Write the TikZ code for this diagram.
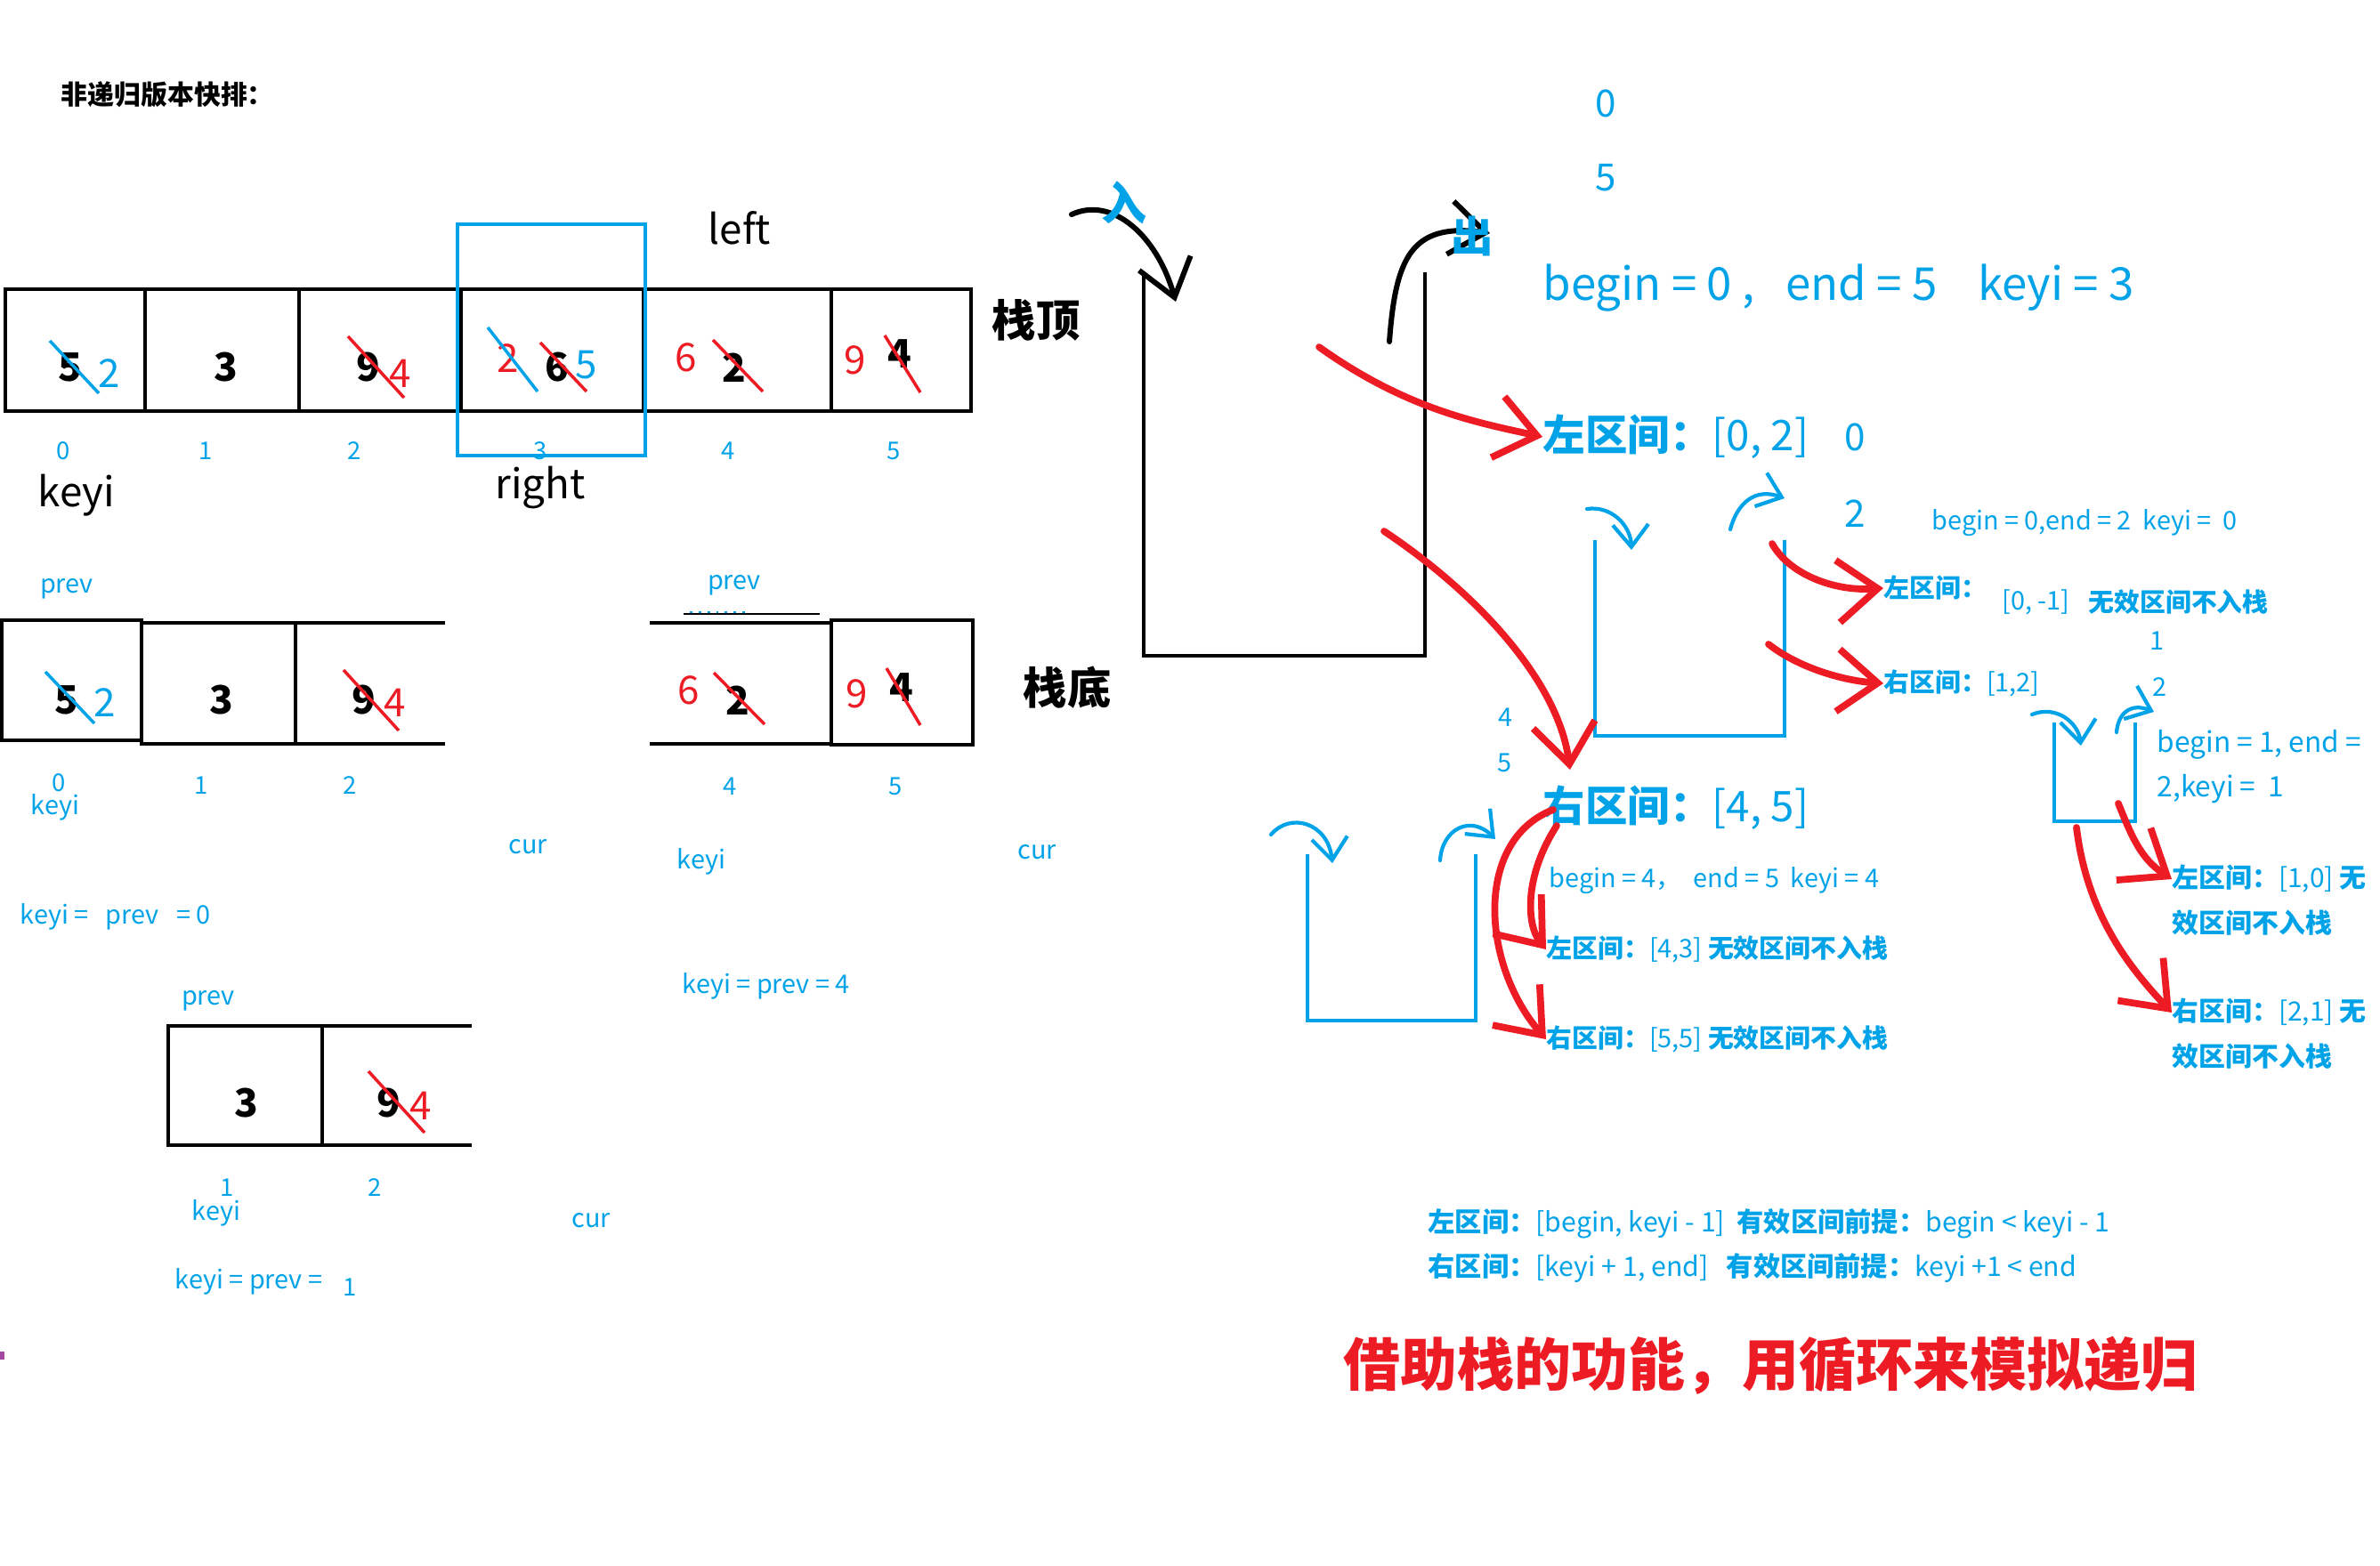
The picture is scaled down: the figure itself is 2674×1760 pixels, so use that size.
\documentclass[tikz,border=0pt]{standalone}
\usepackage{fontspec}
\setmainfont{Noto Sans CJK SC}
\usetikzlibrary{arrows.meta}

\definecolor{pblue}{RGB}{0,162,232}
\definecolor{pred}{RGB}{237,28,36}
\definecolor{ppurple}{RGB}{163,73,164}
\newcommand\fsz[1]{\fontsize{#1}{#1}\selectfont}

\begin{document}
\begin{tikzpicture}[
    x=0.01cm,
    y=-0.01cm,
    every node/.style={inner sep=0pt},
    cell/.style={font=\bfseries\fsz{12.5}},
    cellnew/.style={font=\fsz{12.5}},
    idx/.style={text=pblue, font=\fsz{7.8}},
    note/.style={text=pblue, font=\fsz{8.2}, anchor=west},
    bignote/.style={text=pblue, font=\fsz{13.5}, anchor=west},
    strikeb/.style={pblue, line width=1pt},
    striker/.style={pred, line width=1pt},
    stackb/.style={pblue, line width=1.2pt},
    redarrow/.style={
        pred,
        line width=2.2pt,
        line cap=round,
        -{Straight Barb[length=4.5mm,width=7mm,line width=2.2pt]}
    },
    blkarrow/.style={
        line width=1.7pt,
        line cap=round,
        -{Straight Barb[length=4mm,width=6mm,line width=1.7pt]}
    },
    bluearrow/.style={
        pblue,
        line width=1.2pt,
        line cap=round,
        -{Straight Barb[length=2.5mm,width=4mm,line width=1.2pt]}
    }
]
\useasboundingbox (0,0) rectangle (2674,1760);

% Title
\node[anchor=west, font=\bfseries\fsz{8.5}] (title) at (68,106) {非递归版本快排：};

% First array
\draw[line width=1.4pt] (6,325) rectangle (1091,462);
\foreach \x in {163,336,518,723,934}
    \draw[line width=1.2pt] (\x,325) -- (\x,462);
\draw[pblue, line width=1.2pt] (514,252) rectangle (725,512);

\node[cell] (a0) at (79,413) {5};
\node[cellnew, text=pblue] (a0n) at (123,420) {2};
\draw[strikeb] (56,383) -- (111,442);
\node[cell] (a1) at (254,413) {3};
\node[cell] (a2) at (414,413) {9};
\node[cellnew, text=pred] (a2n) at (450,420) {4};
\draw[striker] (391,378) -- (454,447);
\node[cellnew, text=pred] (a3r) at (571,403) {2};
\node[cell] (a3) at (626,413) {6};
\node[cellnew, text=pblue] (a3n) at (659,410) {5};
\draw[strikeb] (548,368) -- (604,440);
\draw[striker] (607,385) -- (659,440);
\node[cellnew, text=pred] (a4n) at (771,402) {6};
\node[cell] (a4) at (825,413) {2};
\draw[striker] (801,382) -- (857,440);
\node[cellnew, text=pred] (a5n) at (961,405) {9};
\node[cell] (a5) at (1011,398) {4};
\draw[striker] (994,377) -- (1034,441);

% Indices
\foreach \i/\x in {0/71,1/231,2/398,3/607,4/818,5/1004}
    \node[idx] (ia\i) at (\x,507) {\i};

\node[font=\fsz{13}] (leftlbl) at (831,256) {left};
\node[font=\fsz{13}] (rightlbl) at (607,548) {right};
\node[font=\fsz{13}] (keyilbl) at (86,557) {keyi};

% Second row, left part
\draw[line width=1.4pt] (2,697) rectangle (159,832);
\draw[line width=1.4pt] (500,700) -- (159,700) -- (159,836) -- (500,836);
\draw[line width=1.2pt] (332,700) -- (332,836);
\node[cell] (b0) at (75,787) {5};
\node[cellnew, text=pblue] (b0n) at (118,790) {2};
\draw[strikeb] (51,755) -- (106,813);
\node[cell] (b1) at (249,787) {3};
\node[cell] (b2) at (409,787) {9};
\node[cellnew, text=pred] (b2n) at (444,790) {4};
\draw[striker] (386,753) -- (448,821);

\node[note, anchor=center] (bprev) at (75,662) {prev};
\node[idx] (ib0) at (66,880) {0};
\node[note, anchor=center] (bkeyi) at (62,907) {keyi};
\node[idx] (ib1) at (226,883) {1};
\node[idx] (ib2) at (393,883) {2};
\node[note, anchor=center] (bcur) at (593,952) {cur};
\node[note] (bres) at (22,1030) {keyi =\ \ \ prev\ \ \ = 0};

% Second row, right part
\draw[line width=1.4pt] (730,700) -- (934,700);
\draw[line width=1.4pt] (730,836) -- (934,836);
\draw[line width=1.4pt] (934,697) rectangle (1093,837);
\draw[line width=0.4pt] (768,690) -- (921,690);
\draw[pblue, line width=0.8pt, dotted] (775,688) -- (839,688);
\node[cellnew, text=pred] (c4n) at (774,776) {6};
\node[cell] (c4) at (829,787) {2};
\draw[striker] (802,756) -- (859,814);
\node[cellnew, text=pred] (c5n) at (963,780) {9};
\node[cell] (c5) at (1013,773) {4};
\draw[striker] (996,751) -- (1034,815);

\node[note, anchor=center] (cprev) at (825,658) {prev};
\node[idx] (ic4) at (820,884) {4};
\node[idx] (ic5) at (1006,884) {5};
\node[note, anchor=center] (ckeyi) at (788,968) {keyi};
\node[note, anchor=center] (ccur) at (1165,958) {cur};
\node[note] (cres) at (766,1108) {keyi = prev = 4};

% Third row
\draw[line width=1.4pt] (530,1153) -- (189,1153) -- (189,1287) -- (530,1287);
\draw[line width=1.2pt] (362,1153) -- (362,1287);
\node[cell] (d1) at (277,1240) {3};
\node[cell] (d2) at (437,1240) {9};
\node[cellnew, text=pred] (d2n) at (473,1243) {4};
\draw[striker] (414,1204) -- (477,1273);

\node[note, anchor=center] (dprev) at (234,1125) {prev};
\node[idx] (id1) at (255,1335) {1};
\node[note, anchor=center] (dkeyi) at (243,1363) {keyi};
\node[idx] (id2) at (421,1335) {2};
\node[note, anchor=center] (dcur) at (664,1372) {cur};
\node[note] (dres) at (196,1440) {keyi = prev =};
\node[idx] (dresv) at (393,1447) {1};

\fill[ppurple] (0,1519) rectangle (5,1528);

% Main stack
\draw[line width=1.2pt] (1285,306) -- (1285,737) -- (1601,737) -- (1601,306);
\node[font=\bfseries\fsz{14}] (top) at (1164,360) {栈顶};
\node[font=\bfseries\fsz{14}] (bottom) at (1199,773) {栈底};
\coordinate (pushs) at (1204,241);
\coordinate (pushe) at (1321,339);
\coordinate (pops) at (1561,384);
\coordinate (pope) at (1674,262);
\draw[blkarrow] (pushs) .. controls (1250,220) and (1300,265) .. (pushe);
\draw[blkarrow] (pops) .. controls (1568,290) and (1585,250) .. (pope);
\node[text=pblue, font=\bfseries\fsz{14.5}] (push) at (1263,228) {入};
\node[text=pblue, font=\bfseries\fsz{13.5}] (pop) at (1654,265) {出};

% Values on the right
\node[text=pblue, font=\fsz{12}] (v0) at (1804,116) {0};
\node[text=pblue, font=\fsz{12}] (v5) at (1804,200) {5};
\node[bignote, font=\fsz{14.5}] (first) at (1733,324)
    {begin = 0 ,\ \ \ end = 5\ \ \ \ keyi = 3};

% Left interval [0,2]
\node[bignote] (l02) at (1733,491) {\textbf{左区间：}[0, 2]};
\node[text=pblue, font=\fsz{12}] (l02a) at (2084,491) {0};
\node[text=pblue, font=\fsz{12}] (l02b) at (2084,577) {2};
\coordinate (r1s) at (1482,390);
\draw[redarrow] (r1s) .. controls (1580,460) and (1660,475) .. (l02.west);

\draw[stackb] (1792,607) -- (1792,827) -- (2005,827) -- (2005,607);
\coordinate (in2s) at (1783,572);
\coordinate (in2e) at (1833,618);
\coordinate (out2s) at (1944,595);
\coordinate (out2e) at (2005,560);
\draw[bluearrow] (in2s) .. controls (1810,568) and (1832,590) .. (in2e);
\draw[bluearrow] (out2s) .. controls (1952,565) and (1972,548) .. (out2e);
\node[note] (k02) at (2170,588) {begin = 0,end = 2\ \ keyi =\ \ 0};

\node[note, font=\bfseries\fsz{8.2}] (l0m1) at (2116,661) {左区间：};
\node[note] (l0m1v) at (2249,677) {[0, -1]};
\node[note, font=\bfseries\fsz{8.2}] (l0m1t) at (2346,677) {无效区间不入栈};
\node[note] (r12) at (2116,768) {\textbf{右区间：}[1,2]};
\node[idx, font=\fsz{8.2}] (r12a) at (2423,720) {1};
\node[idx, font=\fsz{8.2}] (r12b) at (2426,772) {2};
\coordinate (ras) at (1991,611);
\coordinate (rbs) at (1987,724);
\draw[redarrow] (ras) .. controls (2010,645) and (2060,665) .. (l0m1.west);
\draw[redarrow] (rbs) .. controls (2020,750) and (2070,765) .. (r12.west);

% Small stack for [1,2]
\draw[stackb] (2308,812) -- (2308,923) -- (2399,923) -- (2399,812);
\coordinate (in3s) at (2283,803);
\coordinate (in3e) at (2338,838);
\coordinate (out3s) at (2378,823);
\coordinate (out3e) at (2420,800);
\draw[bluearrow] (in3s) .. controls (2310,792) and (2335,812) .. (in3e);
\draw[bluearrow] (out3s) .. controls (2380,800) and (2395,790) .. (out3e);
\node[note, font=\fsz{9}] (k12a) at (2423,837) {begin = 1, end =};
\node[note, font=\fsz{9}] (k12b) at (2423,887) {2,keyi =\ \ 1};
\node[note, font=\bfseries\fsz{8.5}] (l10) at (2440,988) {左区间：\mdseries[1,0] \bfseries 无};
\node[note, font=\bfseries\fsz{8.5}] (l10b) at (2440,1037) {效区间不入栈};
\node[note, font=\bfseries\fsz{8.5}] (r21) at (2440,1138) {右区间：\mdseries[2,1] \bfseries 无};
\node[note, font=\bfseries\fsz{8.5}] (r21b) at (2440,1187) {效区间不入栈};
\coordinate (rcs) at (2380,903);
\coordinate (rds) at (2333,930);
\draw[redarrow] (rcs) .. controls (2395,940) and (2405,965) .. (l10.west);
\draw[redarrow] (rds) .. controls (2345,1030) and (2395,1090) .. (r21.west);

% Right interval [4,5]
\node[idx, font=\fsz{8.2}] (r45a) at (1691,806) {4};
\node[idx, font=\fsz{8.2}] (r45b) at (1690,857) {5};
\node[bignote] (r45) at (1733,908) {\textbf{右区间：}[4, 5]};
\coordinate (r2s) at (1555,597);
\coordinate (r2e) at (1764,865);
\draw[redarrow] (r2s) .. controls (1650,660) and (1750,760) .. (r2e);

\draw[stackb] (1469,960) -- (1469,1147) -- (1658,1147) -- (1658,960);
\coordinate (in4s) at (1428,938);
\coordinate (in4e) at (1497,970);
\coordinate (out4s) at (1618,967);
\coordinate (out4e) at (1680,943);
\draw[bluearrow] (in4s) .. controls (1450,912) and (1492,925) .. (in4e);
\draw[bluearrow] (out4s) .. controls (1620,932) and (1652,915) .. (out4e);

\node[note] (k45) at (1740,990) {begin = 4，\ \ end = 5\ \ keyi = 4};
\node[note] (l43) at (1737,1067) {\textbf{左区间：}[4,3] \textbf{无效区间不入栈}};
\node[note] (r55) at (1737,1168) {\textbf{右区间：}[5,5] \textbf{无效区间不入栈}};
\coordinate (res) at (1745,910);
\coordinate (rfs) at (1749,928);
\draw[redarrow] (res) .. controls (1655,945) and (1665,1085) .. (r55.west);
\draw[redarrow] (rfs) .. controls (1712,985) and (1715,1040) .. (l43.west);

% Rules
\node[note, font=\fsz{8.6}] (rule1) at (1604,1375)
    {\textbf{左区间：}[begin, keyi - 1]\ \ \textbf{有效区间前提：}begin < keyi - 1};
\node[note, font=\fsz{8.6}] (rule2) at (1604,1425)
    {\textbf{右区间：}[keyi + 1, end]\ \ \ \textbf{有效区间前提：}keyi +1 < end};

\node[anchor=west, text=pred, font=\bfseries\fsz{18.2}] (summary) at (1509,1535)
    {借助栈的功能，用循环来模拟递归};

\end{tikzpicture}
\end{document}
